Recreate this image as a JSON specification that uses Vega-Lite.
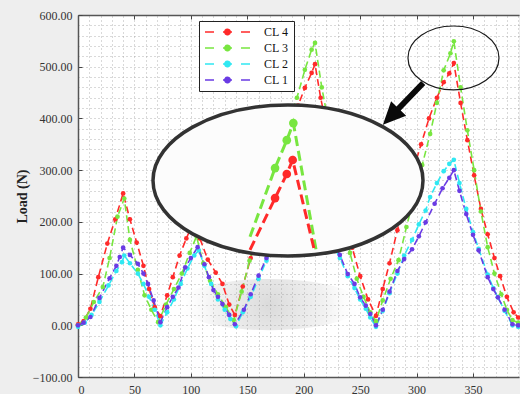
{
  "$schema": "https://vega.github.io/schema/vega-lite/v6.json",
  "width": 441,
  "height": 362,
  "autosize": {"type": "none"},
  "padding": {"left": 78, "top": 15, "right": 1, "bottom": 17},
  "background": "#eeeeee",
  "config": {"view": {"fill": "white", "stroke": null}, "font": "Liberation Serif"},
  "datasets": {
    "loads": [
      {"step":0,"load":2,"series":"CL 4"},{"step":5,"load":8,"series":"CL 4"},{"step":11,"load":32,"series":"CL 4"},{"step":18,"load":93,"series":"CL 4"},{"step":26,"load":158,"series":"CL 4"},{"step":33,"load":205,"series":"CL 4"},{"step":40,"load":255,"series":"CL 4"},{"step":46,"load":205,"series":"CL 4"},{"step":52,"load":160,"series":"CL 4"},{"step":58,"load":115,"series":"CL 4"},{"step":63,"load":70,"series":"CL 4"},{"step":68,"load":35,"series":"CL 4"},{"step":73,"load":18,"series":"CL 4"},{"step":79,"load":58,"series":"CL 4"},{"step":84,"load":93,"series":"CL 4"},{"step":90,"load":135,"series":"CL 4"},{"step":96,"load":168,"series":"CL 4"},{"step":102,"load":198,"series":"CL 4"},{"step":108,"load":168,"series":"CL 4"},{"step":115,"load":127,"series":"CL 4"},{"step":122,"load":102,"series":"CL 4"},{"step":128,"load":80,"series":"CL 4"},{"step":134,"load":40,"series":"CL 4"},{"step":139,"load":20,"series":"CL 4"},{"step":146,"load":75,"series":"CL 4"},{"step":153,"load":130,"series":"CL 4"},{"step":160,"load":185,"series":"CL 4"},{"step":167,"load":240,"series":"CL 4"},{"step":174,"load":290,"series":"CL 4"},{"step":181,"load":340,"series":"CL 4"},{"step":188,"load":385,"series":"CL 4"},{"step":195,"load":425,"series":"CL 4"},{"step":201,"load":459,"series":"CL 4"},{"step":207,"load":488,"series":"CL 4"},{"step":210,"load":505,"series":"CL 4"},{"step":215,"load":440,"series":"CL 4"},{"step":222,"load":365,"series":"CL 4"},{"step":229,"load":290,"series":"CL 4"},{"step":236,"load":215,"series":"CL 4"},{"step":243,"load":150,"series":"CL 4"},{"step":250,"load":95,"series":"CL 4"},{"step":257,"load":50,"series":"CL 4"},{"step":264,"load":18,"series":"CL 4"},{"step":270,"load":70,"series":"CL 4"},{"step":276,"load":120,"series":"CL 4"},{"step":283,"load":184,"series":"CL 4"},{"step":290,"load":245,"series":"CL 4"},{"step":297,"load":300,"series":"CL 4"},{"step":304,"load":350,"series":"CL 4"},{"step":311,"load":400,"series":"CL 4"},{"step":318,"load":440,"series":"CL 4"},{"step":324,"load":470,"series":"CL 4"},{"step":329,"load":487,"series":"CL 4"},{"step":333,"load":507,"series":"CL 4"},{"step":339,"load":430,"series":"CL 4"},{"step":345,"load":358,"series":"CL 4"},{"step":351,"load":290,"series":"CL 4"},{"step":357,"load":225,"series":"CL 4"},{"step":363,"load":176,"series":"CL 4"},{"step":369,"load":130,"series":"CL 4"},{"step":374,"load":95,"series":"CL 4"},{"step":380,"load":55,"series":"CL 4"},{"step":386,"load":25,"series":"CL 4"},{"step":390,"load":15,"series":"CL 4"},
      {"step":0,"load":0,"series":"CL 3"},{"step":7,"load":15,"series":"CL 3"},{"step":14,"load":45,"series":"CL 3"},{"step":22,"load":74,"series":"CL 3"},{"step":28,"load":130,"series":"CL 3"},{"step":35,"load":210,"series":"CL 3"},{"step":41,"load":245,"series":"CL 3"},{"step":46,"load":165,"series":"CL 3"},{"step":53,"load":107,"series":"CL 3"},{"step":59,"load":58,"series":"CL 3"},{"step":65,"load":30,"series":"CL 3"},{"step":71,"load":6,"series":"CL 3"},{"step":78,"load":40,"series":"CL 3"},{"step":85,"load":70,"series":"CL 3"},{"step":92,"load":100,"series":"CL 3"},{"step":99,"load":140,"series":"CL 3"},{"step":105,"load":172,"series":"CL 3"},{"step":111,"load":120,"series":"CL 3"},{"step":117,"load":86,"series":"CL 3"},{"step":124,"load":60,"series":"CL 3"},{"step":131,"load":35,"series":"CL 3"},{"step":138,"load":10,"series":"CL 3"},{"step":145,"load":65,"series":"CL 3"},{"step":152,"load":125,"series":"CL 3"},{"step":159,"load":180,"series":"CL 3"},{"step":166,"load":235,"series":"CL 3"},{"step":173,"load":290,"series":"CL 3"},{"step":180,"load":345,"series":"CL 3"},{"step":187,"load":395,"series":"CL 3"},{"step":194,"load":440,"series":"CL 3"},{"step":201,"load":494,"series":"CL 3"},{"step":207,"load":533,"series":"CL 3"},{"step":210,"load":546,"series":"CL 3"},{"step":216,"load":460,"series":"CL 3"},{"step":222,"load":390,"series":"CL 3"},{"step":229,"load":300,"series":"CL 3"},{"step":235,"load":220,"series":"CL 3"},{"step":241,"load":140,"series":"CL 3"},{"step":247,"load":90,"series":"CL 3"},{"step":253,"load":55,"series":"CL 3"},{"step":259,"load":25,"series":"CL 3"},{"step":264,"load":8,"series":"CL 3"},{"step":270,"load":48,"series":"CL 3"},{"step":277,"load":90,"series":"CL 3"},{"step":284,"load":126,"series":"CL 3"},{"step":291,"load":190,"series":"CL 3"},{"step":298,"load":250,"series":"CL 3"},{"step":305,"load":310,"series":"CL 3"},{"step":312,"load":370,"series":"CL 3"},{"step":318,"load":430,"series":"CL 3"},{"step":324,"load":493,"series":"CL 3"},{"step":330,"load":526,"series":"CL 3"},{"step":333,"load":549,"series":"CL 3"},{"step":339,"load":460,"series":"CL 3"},{"step":345,"load":377,"series":"CL 3"},{"step":351,"load":300,"series":"CL 3"},{"step":357,"load":220,"series":"CL 3"},{"step":363,"load":151,"series":"CL 3"},{"step":369,"load":100,"series":"CL 3"},{"step":375,"load":60,"series":"CL 3"},{"step":380,"load":30,"series":"CL 3"},{"step":385,"load":10,"series":"CL 3"},{"step":390,"load":5,"series":"CL 3"},
      {"step":0,"load":-3,"series":"CL 2"},{"step":6,"load":5,"series":"CL 2"},{"step":12,"load":20,"series":"CL 2"},{"step":19,"load":45,"series":"CL 2"},{"step":27,"load":77,"series":"CL 2"},{"step":34,"load":105,"series":"CL 2"},{"step":39,"load":122,"series":"CL 2"},{"step":41,"load":135,"series":"CL 2"},{"step":46,"load":120,"series":"CL 2"},{"step":53,"load":100,"series":"CL 2"},{"step":58,"load":80,"series":"CL 2"},{"step":63,"load":55,"series":"CL 2"},{"step":68,"load":30,"series":"CL 2"},{"step":73,"load":0,"series":"CL 2"},{"step":79,"load":25,"series":"CL 2"},{"step":85,"load":50,"series":"CL 2"},{"step":91,"load":80,"series":"CL 2"},{"step":97,"load":110,"series":"CL 2"},{"step":103,"load":135,"series":"CL 2"},{"step":107,"load":145,"series":"CL 2"},{"step":112,"load":115,"series":"CL 2"},{"step":118,"load":80,"series":"CL 2"},{"step":124,"load":50,"series":"CL 2"},{"step":130,"load":30,"series":"CL 2"},{"step":135,"load":12,"series":"CL 2"},{"step":140,"load":-2,"series":"CL 2"},{"step":146,"load":25,"series":"CL 2"},{"step":153,"load":55,"series":"CL 2"},{"step":160,"load":90,"series":"CL 2"},{"step":167,"load":125,"series":"CL 2"},{"step":174,"load":160,"series":"CL 2"},{"step":181,"load":195,"series":"CL 2"},{"step":188,"load":228,"series":"CL 2"},{"step":195,"load":258,"series":"CL 2"},{"step":200,"load":265,"series":"CL 2"},{"step":206,"load":240,"series":"CL 2"},{"step":213,"load":210,"series":"CL 2"},{"step":220,"load":180,"series":"CL 2"},{"step":226,"load":155,"series":"CL 2"},{"step":232,"load":130,"series":"CL 2"},{"step":239,"load":95,"series":"CL 2"},{"step":245,"load":72,"series":"CL 2"},{"step":250,"load":50,"series":"CL 2"},{"step":255,"load":32,"series":"CL 2"},{"step":259,"load":15,"series":"CL 2"},{"step":264,"load":-3,"series":"CL 2"},{"step":270,"load":28,"series":"CL 2"},{"step":276,"load":62,"series":"CL 2"},{"step":283,"load":100,"series":"CL 2"},{"step":289,"load":135,"series":"CL 2"},{"step":296,"load":165,"series":"CL 2"},{"step":302,"load":195,"series":"CL 2"},{"step":308,"load":222,"series":"CL 2"},{"step":312,"load":248,"series":"CL 2"},{"step":318,"load":275,"series":"CL 2"},{"step":324,"load":298,"series":"CL 2"},{"step":329,"load":312,"series":"CL 2"},{"step":333,"load":320,"series":"CL 2"},{"step":338,"load":275,"series":"CL 2"},{"step":344,"load":225,"series":"CL 2"},{"step":350,"load":180,"series":"CL 2"},{"step":355,"load":148,"series":"CL 2"},{"step":363,"load":98,"series":"CL 2"},{"step":368,"load":72,"series":"CL 2"},{"step":372,"load":54,"series":"CL 2"},{"step":378,"load":28,"series":"CL 2"},{"step":385,"load":0,"series":"CL 2"},{"step":390,"load":-3,"series":"CL 2"},
      {"step":0,"load":0,"series":"CL 1"},{"step":5,"load":5,"series":"CL 1"},{"step":11,"load":16,"series":"CL 1"},{"step":19,"load":53,"series":"CL 1"},{"step":28,"load":91,"series":"CL 1"},{"step":34,"load":115,"series":"CL 1"},{"step":37,"load":132,"series":"CL 1"},{"step":40,"load":150,"series":"CL 1"},{"step":46,"load":136,"series":"CL 1"},{"step":53,"load":119,"series":"CL 1"},{"step":58,"load":100,"series":"CL 1"},{"step":62,"load":80,"series":"CL 1"},{"step":67,"load":48,"series":"CL 1"},{"step":73,"load":6,"series":"CL 1"},{"step":79,"load":35,"series":"CL 1"},{"step":84,"load":55,"series":"CL 1"},{"step":89,"load":73,"series":"CL 1"},{"step":95,"load":112,"series":"CL 1"},{"step":100,"load":130,"series":"CL 1"},{"step":106,"load":151,"series":"CL 1"},{"step":112,"load":118,"series":"CL 1"},{"step":116,"load":93,"series":"CL 1"},{"step":120,"load":68,"series":"CL 1"},{"step":124,"load":55,"series":"CL 1"},{"step":128,"load":41,"series":"CL 1"},{"step":134,"load":20,"series":"CL 1"},{"step":139,"load":2,"series":"CL 1"},{"step":147,"load":30,"series":"CL 1"},{"step":153,"load":60,"series":"CL 1"},{"step":160,"load":96,"series":"CL 1"},{"step":167,"load":130,"series":"CL 1"},{"step":174,"load":165,"series":"CL 1"},{"step":181,"load":195,"series":"CL 1"},{"step":188,"load":230,"series":"CL 1"},{"step":195,"load":262,"series":"CL 1"},{"step":200,"load":268,"series":"CL 1"},{"step":206,"load":245,"series":"CL 1"},{"step":213,"load":215,"series":"CL 1"},{"step":220,"load":185,"series":"CL 1"},{"step":226,"load":160,"series":"CL 1"},{"step":232,"load":136,"series":"CL 1"},{"step":239,"load":99,"series":"CL 1"},{"step":245,"load":80,"series":"CL 1"},{"step":250,"load":54,"series":"CL 1"},{"step":255,"load":38,"series":"CL 1"},{"step":259,"load":22,"series":"CL 1"},{"step":264,"load":0,"series":"CL 1"},{"step":270,"load":30,"series":"CL 1"},{"step":276,"load":65,"series":"CL 1"},{"step":283,"load":105,"series":"CL 1"},{"step":289,"load":128,"series":"CL 1"},{"step":296,"load":147,"series":"CL 1"},{"step":302,"load":172,"series":"CL 1"},{"step":308,"load":199,"series":"CL 1"},{"step":316,"load":235,"series":"CL 1"},{"step":323,"load":265,"series":"CL 1"},{"step":329,"load":285,"series":"CL 1"},{"step":333,"load":300,"series":"CL 1"},{"step":338,"load":260,"series":"CL 1"},{"step":344,"load":215,"series":"CL 1"},{"step":350,"load":175,"series":"CL 1"},{"step":355,"load":145,"series":"CL 1"},{"step":363,"load":93,"series":"CL 1"},{"step":368,"load":70,"series":"CL 1"},{"step":372,"load":54,"series":"CL 1"},{"step":378,"load":30,"series":"CL 1"},{"step":385,"load":2,"series":"CL 1"},{"step":390,"load":0,"series":"CL 1"}
    ],
    "inset": [
      {"step":152.4,"load":171,"series":"CL 3"},{"step":174.6,"load":304,"series":"CL 3"},{"step":185,"load":358,"series":"CL 3"},{"step":190.8,"load":391,"series":"CL 3"},{"step":211.5,"load":139,"series":"CL 3"},
      {"step":152.4,"load":146,"series":"CL 4"},{"step":174.6,"load":246,"series":"CL 4"},{"step":185,"load":292.6,"series":"CL 4"},{"step":190.2,"load":319.7,"series":"CL 4"},{"step":210,"load":140,"series":"CL 4"}
    ]
  },
  "layer": [
    {
      "data": {"values": [{}]},
      "mark": {
        "type": "point",
        "shape": "M-1,0C-1,-0.153,-0.552,-0.278,0,-0.278C0.552,-0.278,1,-0.153,1,0C1,0.153,0.552,0.278,0,0.278C-0.552,0.278,-1,0.153,-1,0Z",
        "size": 34000,
        "filled": true,
        "opacity": 1,
        "strokeWidth": 0,
        "fill": {"gradient": "radial", "stops": [
          {"offset": 0, "color": "rgba(140,140,140,0.32)"},
          {"offset": 0.6, "color": "rgba(170,170,170,0.16)"},
          {"offset": 1, "color": "rgba(255,255,255,0)"}
        ]}
      },
      "encoding": {
        "x": {"datum": 170, "type": "quantitative", "axis": {
          "orient": "top", "title": null, "labels": false,
          "values": [0,10,20,30,40,50,60,70,80,90,100,110,120,130,140,150,160,170,180,190,200,210,220,230,240,250,260,270,280,290,300,310,320,330,340,350,360,370,380,390],
          "grid": true, "gridDash": [1, 3], "gridColor": "#999999", "gridOpacity": 0.75,
          "ticks": true, "tickSize": -4, "tickColor": "#444444",
          "tickOpacity": {"condition": {"test": "datum.value % 50 === 0", "value": 1}, "value": 0},
          "domainColor": "#555555", "domainWidth": 1.5
        }},
        "y": {"datum": 40, "type": "quantitative", "axis": {
          "orient": "right", "title": null, "labels": false, "ticks": false, "domain": false,
          "values": [-100,-80,-60,-40,-20,0,20,40,60,80,100,120,140,160,180,200,220,240,260,280,300,320,340,360,380,400,420,440,460,480,500,520,540,560,580,600],
          "grid": true, "gridDash": [1, 3], "gridColor": "#999999", "gridOpacity": 0.75
        }}
      }
    },
    {
      "data": {"name": "loads"},
      "mark": {"type": "line", "strokeDash": [7, 4], "strokeWidth": 1.6, "point": {"filled": true, "size": 22}},
      "encoding": {
        "x": {"field": "step", "type": "quantitative",
          "scale": {"domain": [0, 390.75], "nice": false, "zero": false},
          "axis": {"orient": "bottom", "title": null, "values": [0,50,100,150,200,250,300,350], "format": "d",
            "labelFont": "Liberation Serif", "labelFontSize": 12, "labelColor": "#333333", "labelPadding": 11,
            "grid": false, "tickSize": -4, "tickColor": "#444444", "domainColor": "#555555", "domainWidth": 1.5}},
        "y": {"field": "load", "type": "quantitative",
          "scale": {"domain": [-100, 600], "nice": false, "zero": false},
          "axis": {"orient": "left", "values": [-100,0,100,200,300,400,500,600], "format": ".2f",
            "labelFont": "Liberation Serif", "labelFontSize": 12, "labelColor": "#333333", "labelPadding": 10,
            "grid": false, "tickSize": -4, "tickColor": "#444444", "domainColor": "#555555", "domainWidth": 1.5,
            "title": "Load (N)", "titleFont": "Liberation Serif", "titleFontSize": 14, "titleFontWeight": "bold",
            "titleColor": "#222222", "titleX": -55.5, "titleY": 181, "titleBaseline": "middle", "titleAngle": 270}},
        "color": {"field": "series", "type": "nominal",
          "scale": {"domain": ["CL 4", "CL 3", "CL 2", "CL 1"], "range": ["#ff2a2a", "#78e640", "#30e8f2", "#6a3be4"]},
          "legend": {
            "orient": "none", "legendX": 121, "legendY": 6, "title": null,
            "symbolType": "M-1,0H0.8M2.6,0H4.4M6.2,0H8M2.95,0C2.95,-0.3,3.2,-0.55,3.5,-0.55C3.8,-0.55,4.05,-0.3,4.05,0C4.05,0.3,3.8,0.55,3.5,0.55C3.2,0.55,2.95,0.3,2.95,0Z",
            "symbolSize": 100, "symbolStrokeWidth": 1.5, "symbolDash": [1, 0],
            "labelFont": "Liberation Serif", "labelFontSize": 12, "labelColor": "#111111",
            "labelOffset": 48, "labelExpr": "datum.label + '\u00a0\u00a0\u00a0\u00a0\u00a0'",
            "padding": 5, "rowPadding": 4,
            "fillColor": "white", "strokeColor": "#222222",
            "encode": {"symbols": {"update": {
              "fill": {"scale": "color", "field": "value"},
              "stroke": {"scale": "color", "field": "value"}
            }}}
          }}
      }
    },
    {
      "data": {"values": [{}]},
      "mark": {
        "type": "point",
        "shape": "M-1,0C-1,-0.309,-0.552,-0.559,0,-0.559C0.552,-0.559,1,-0.309,1,0C1,0.309,0.552,0.559,0,0.559C-0.552,0.559,-1,0.309,-1,0Z",
        "size": 72900, "filled": true, "fill": "#fcfcfc", "opacity": 1,
        "stroke": "#333333", "strokeWidth": 3.5
      },
      "encoding": {"x": {"datum": 186.07, "type": "quantitative", "axis": null}, "y": {"datum": 280, "type": "quantitative", "axis": null}}
    },
    {
      "data": {"name": "inset"},
      "transform": [{"filter": "datum.series === 'CL 3'"}],
      "layer": [
        {"mark": {"type": "line", "color": "#78e640", "strokeDash": [10, 5], "strokeWidth": 3}},
        {"transform": [{"filter": "datum.step > 170 && datum.step < 195"}],
         "mark": {"type": "point", "filled": true, "color": "#78e640", "size": 75, "opacity": 1}}
      ],
      "encoding": {"x": {"field": "step", "type": "quantitative", "axis": null}, "y": {"field": "load", "type": "quantitative", "axis": null}}
    },
    {
      "data": {"name": "inset"},
      "transform": [{"filter": "datum.series === 'CL 4'"}],
      "layer": [
        {"mark": {"type": "line", "color": "#ff2a2a", "strokeDash": [10, 5], "strokeWidth": 3}},
        {"transform": [{"filter": "datum.step > 170 && datum.step < 195"}],
         "mark": {"type": "point", "filled": true, "color": "#ff2a2a", "size": 75, "opacity": 1}}
      ],
      "encoding": {"x": {"field": "step", "type": "quantitative", "axis": null}, "y": {"field": "load", "type": "quantitative", "axis": null}}
    },
    {
      "data": {"values": [{}]},
      "mark": {
        "type": "point",
        "shape": "M-1,0C-1,-0.388,-0.552,-0.703,0,-0.703C0.552,-0.703,1,-0.388,1,0C1,0.388,0.552,0.703,0,0.703C-0.552,0.703,-1,0.388,-1,0Z",
        "size": 8281, "filled": false, "stroke": "#1a1a1a", "strokeWidth": 1.2, "opacity": 1
      },
      "encoding": {"x": {"datum": 332.7, "type": "quantitative", "axis": null}, "y": {"datum": 516.9, "type": "quantitative", "axis": null}}
    },
    {
      "data": {"values": [{}]},
      "mark": {
        "type": "point",
        "shape": "M0,-1L0.36,-0.22L0.1,-0.22L0.1,1L-0.1,1L-0.1,-0.22L-0.36,-0.22Z",
        "size": 3364, "filled": true, "color": "#0a0a0a", "opacity": 1, "angle": 224
      },
      "encoding": {"x": {"datum": 288, "type": "quantitative", "axis": null}, "y": {"datum": 428, "type": "quantitative", "axis": null}}
    }
  ]
}
